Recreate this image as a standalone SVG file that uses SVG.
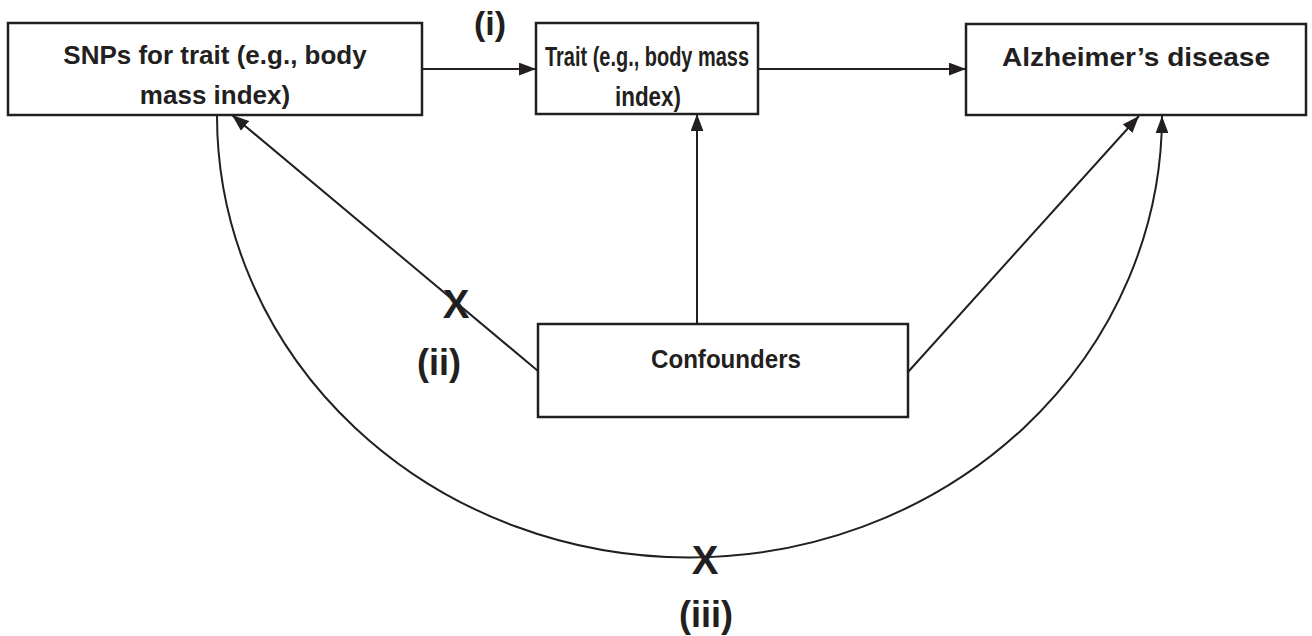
<svg xmlns="http://www.w3.org/2000/svg" width="1312" height="636" viewBox="0 0 1312 636">
  <style>
    .box { fill: #fff; stroke: #231f20; stroke-width: 2.5; }
    .lbl { font-family: "Liberation Sans", Arial, sans-serif; font-weight: bold; font-size: 26px; fill: #231f20; text-anchor: middle; }
    .tag { font-family: "Liberation Sans", Arial, sans-serif; font-weight: bold; font-size: 36px; fill: #231f20; text-anchor: middle; }
    .mark { font-family: "Liberation Sans", Arial, sans-serif; font-weight: bold; font-size: 40px; fill: #231f20; text-anchor: middle; }
    .edge { fill: none; stroke: #231f20; stroke-width: 2; }
  </style>
  <defs>
    <marker id="arrow" viewBox="0 0 16 12" refX="16" refY="6" markerWidth="17" markerHeight="13" markerUnits="userSpaceOnUse" orient="auto">
      <path d="M0,0 L16,6 L0,12 Z" fill="#231f20"/>
    </marker>
  </defs>

  <g id="connectors">
    <line class="edge" x1="423" y1="69" x2="536" y2="69" marker-end="url(#arrow)"/>
    <line class="edge" x1="758" y1="69" x2="966" y2="69" marker-end="url(#arrow)"/>
    <line class="edge" x1="697" y1="324" x2="697" y2="114" marker-end="url(#arrow)"/>
    <line class="edge" x1="538" y1="371" x2="232" y2="115" marker-end="url(#arrow)"/>
    <line class="edge" x1="908" y1="372" x2="1139" y2="116" marker-end="url(#arrow)"/>
    <path class="edge" d="M217,115 A472.5,442 0 0 0 1162,116" marker-end="url(#arrow)"/>
  </g>

  <g id="node-snps">
    <rect class="box" x="8" y="23" width="414" height="92"/>
    <text class="lbl" x="215" y="64">SNPs for trait (e.g., body</text>
    <text class="lbl" x="215" y="104">mass index)</text>
  </g>
  <g id="node-trait">
    <rect class="box" x="536" y="23" width="222" height="91"/>
    <text class="lbl" x="647" y="66" style="font-size:28px" textLength="204" lengthAdjust="spacingAndGlyphs">Trait (e.g., body mass</text>
    <text class="lbl" x="648" y="106" style="font-size:28px" textLength="66" lengthAdjust="spacingAndGlyphs">index)</text>
  </g>
  <g id="node-ad">
    <rect class="box" x="966" y="24" width="340" height="91"/>
    <text class="lbl" x="1136" y="66" textLength="268" lengthAdjust="spacingAndGlyphs">Alzheimer’s disease</text>
  </g>
  <g id="node-confounders">
    <rect class="box" x="538" y="324" width="370" height="93"/>
    <text class="lbl" x="726" y="368" textLength="150" lengthAdjust="spacingAndGlyphs">Confounders</text>
  </g>

  <g id="labels">
    <text class="tag" x="490" y="35" style="font-size:34px">(i)</text>
    <text class="mark" x="456" y="318">X</text>
    <text class="tag" x="439" y="375">(ii)</text>
    <text class="mark" x="705" y="574">X</text>
    <text class="tag" x="706" y="627">(iii)</text>
  </g>
</svg>
